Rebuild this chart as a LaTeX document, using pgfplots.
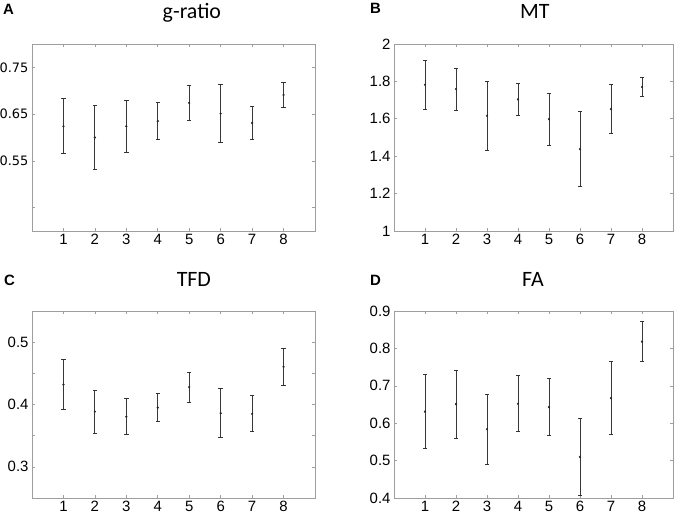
\documentclass[border=0pt]{standalone}
\usepackage{fontspec}
\setmainfont{Liberation Sans}
\newfontfamily\titlefont{Carlito}
\newfontfamily\djv{DejaVu Sans}
\usepackage{pgfplots}
\usepackage{pgfplotstable}
\pgfplotsset{compat=1.18}

\pgfplotstableread{
x y e
1 0.624 0.0585
2 0.600 0.0685
3 0.624 0.0555
4 0.635 0.040
5 0.674 0.037
6 0.651 0.062
7 0.631 0.035
8 0.691 0.026
}\dataA
\pgfplotstableread{
x y e
1 1.782 0.130
2 1.759 0.112
3 1.616 0.184
4 1.704 0.086
5 1.598 0.140
6 1.438 0.200
7 1.652 0.132
8 1.770 0.053
}\dataB
\pgfplotstableread{
x y e
1 0.432 0.0405
2 0.3885 0.0345
3 0.3805 0.0285
4 0.395 0.0225
5 0.428 0.024
6 0.386 0.0395
7 0.385 0.029
8 0.4605 0.030
}\dataC
\pgfplotstableread{
x y e
1 0.631 0.099
2 0.651 0.091
3 0.584 0.094
4 0.652 0.075
5 0.643 0.076
6 0.510 0.1025
7 0.667 0.097
8 0.818 0.053
}\dataD

\pgfplotsset{
  every axis title shift=0pt,
  panel/.style={
    scale only axis, anchor=south west,
    height=187bp,
    xmin=0, xmax=9, xtick={1,...,8},
    axis line style={black!38, line width=0.8pt},
    tick style={black!38, line width=0.6pt},
    major tick length=3bp,
    tick align=inside,
    ticklabel style={font=\fontsize{15}{15}\selectfont, text=black},
    /pgf/number format/assume math mode=true,
    title style={font=\titlefont\fontsize{22}{22}\selectfont, anchor=base, yshift=25bp},
  },
  ebar/.style={
    only marks, black!85, mark=*, mark size=0.9bp,
    error bars/.cd, y dir=both, y explicit,
    error mark=none,
    error bar style={line width=1pt, black!78},
  },
  caps/.style={
    only marks, mark=-, mark size=2.2bp,
    mark options={line width=0.9pt, black!80},
  },
}

\newcommand{\panelplots}[1]{%
  \addplot[ebar] table[x=x,y=y,y error=e] {#1};
  \addplot[caps] table[x=x,y expr=\thisrow{y}+\thisrow{e}] {#1};
  \addplot[caps] table[x=x,y expr=\thisrow{y}-\thisrow{e}] {#1};
}

\begin{document}
\begin{tikzpicture}
\useasboundingbox (0,0) rectangle (680bp,516bp);

% A
\begin{axis}[panel, at={(32bp,285bp)}, width=283bp,
  ymin=0.4, ymax=0.8,
  ytick={0.45,0.55,0.65,0.75}, yticklabels={,0.55,0.65,0.75},
  yticklabel style={font=\djv\fontsize{13}{13}\selectfont},
  title={g-ratio}, title style={at={(rel axis cs:0.565,1)}}]
\panelplots{\dataA}
\end{axis}

% B
\begin{axis}[panel, at={(394bp,285bp)}, width=279bp,
  ymin=1, ymax=2, ytick={1,1.2,1.4,1.6,1.8,2},
  yticklabels={1,1.2,1.4,1.6,1.8,2},
  title={MT}, title style={at={(rel axis cs:0.505,1)}}]
\panelplots{\dataB}
\end{axis}

% C
\begin{axis}[panel, at={(32bp,18bp)}, width=283bp,
  ymin=0.25, ymax=0.55,
  ytick={0.3,0.35,0.4,0.45,0.5}, yticklabels={0.3,,0.4,,0.5},
  title={TFD}, title style={at={(rel axis cs:0.572,1)}}]
\panelplots{\dataC}
\end{axis}

% D
\begin{axis}[panel, at={(394bp,18bp)}, width=279bp,
  ymin=0.4, ymax=0.9, ytick={0.4,0.5,0.6,0.7,0.8,0.9},
  yticklabels={0.4,0.5,0.6,0.7,0.8,0.9},
  title={FA}, title style={at={(rel axis cs:0.498,1)}}]
\panelplots{\dataD}
\end{axis}

\node[anchor=base west, inner sep=0pt, font=\bfseries\fontsize{15}{15}\selectfont] at (3bp,501bp) {A};
\node[anchor=base west, inner sep=0pt, font=\bfseries\fontsize{15}{15}\selectfont] at (370bp,502bp) {B};
\node[anchor=base west, inner sep=0pt, font=\bfseries\fontsize{15}{15}\selectfont] at (4bp,230bp) {C};
\node[anchor=base west, inner sep=0pt, font=\bfseries\fontsize{15}{15}\selectfont] at (370bp,230bp) {D};
\end{tikzpicture}
\end{document}
